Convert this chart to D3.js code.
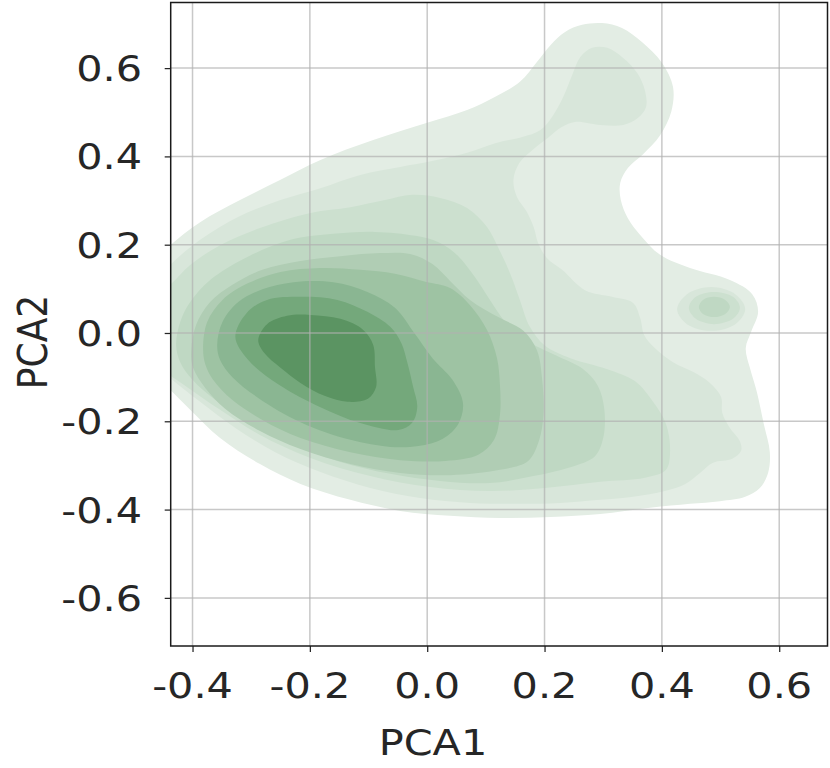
<!DOCTYPE html>
<html><head><meta charset="utf-8">
<script src="https://cdn.jsdelivr.net/npm/d3@7"></script>
<style>body{margin:0;background:#fff} svg{display:block}</style>
</head><body><svg id="c" width="830" height="768"></svg>
<script>
// Axis ticks
const xTickVals = [-0.4, -0.2, 0.0, 0.2, 0.4, 0.6];
const xTickLabels = ["-0.4", "-0.2", "0.0", "0.2", "0.4", "0.6"];
const yTickVals = [-0.6, -0.4, -0.2, 0.0, 0.2, 0.4, 0.6];
const yTickLabels = ["-0.6", "-0.4", "-0.2", "0.0", "0.2", "0.4", "0.6"];
const xLabel = "PCA1", yLabel = "PCA2";

// KDE contour levels (PCA1, PCA2), outermost first
const level1 = [[-0.472,0.154],[-0.438,0.199],[-0.387,0.251],[-0.319,0.301],[-0.250,0.347],[-0.182,0.392],[-0.092,0.437],[0.000,0.476],[0.068,0.505],[0.116,0.535],[0.158,0.569],[0.187,0.614],[0.210,0.652],[0.235,0.682],[0.264,0.698],[0.298,0.702],[0.332,0.691],[0.366,0.659],[0.400,0.612],[0.419,0.557],[0.416,0.501],[0.397,0.448],[0.368,0.405],[0.342,0.374],[0.329,0.340],[0.330,0.301],[0.342,0.260],[0.363,0.222],[0.397,0.177],[0.448,0.147],[0.516,0.120],[0.554,0.088],[0.564,0.048],[0.552,0.002],[0.543,-0.034],[0.550,-0.079],[0.562,-0.134],[0.574,-0.208],[0.584,-0.270],[0.581,-0.317],[0.567,-0.351],[0.542,-0.371],[0.499,-0.381],[0.448,-0.387],[0.380,-0.396],[0.295,-0.410],[0.210,-0.417],[0.124,-0.419],[0.039,-0.414],[-0.046,-0.403],[-0.131,-0.378],[-0.216,-0.342],[-0.285,-0.297],[-0.353,-0.238],[-0.404,-0.174],[-0.446,-0.118],[-0.489,-0.061],[-0.506,0.052],[-0.489,0.120]];
const level2 = [[-0.489,0.075],[-0.438,0.154],[-0.387,0.211],[-0.319,0.265],[-0.250,0.301],[-0.182,0.328],[-0.114,0.358],[-0.046,0.376],[0.010,0.390],[0.068,0.408],[0.116,0.430],[0.162,0.444],[0.193,0.460],[0.215,0.494],[0.232,0.535],[0.247,0.584],[0.261,0.625],[0.281,0.646],[0.307,0.646],[0.334,0.623],[0.358,0.589],[0.371,0.550],[0.373,0.512],[0.359,0.487],[0.334,0.471],[0.295,0.471],[0.252,0.478],[0.230,0.467],[0.206,0.442],[0.179,0.414],[0.157,0.385],[0.147,0.347],[0.153,0.308],[0.170,0.274],[0.182,0.238],[0.189,0.204],[0.204,0.170],[0.230,0.143],[0.269,0.097],[0.315,0.082],[0.351,0.068],[0.363,0.034],[0.370,-0.005],[0.388,-0.034],[0.419,-0.066],[0.453,-0.088],[0.482,-0.113],[0.501,-0.145],[0.503,-0.181],[0.516,-0.215],[0.533,-0.245],[0.535,-0.267],[0.520,-0.285],[0.487,-0.294],[0.465,-0.317],[0.440,-0.342],[0.405,-0.358],[0.351,-0.371],[0.295,-0.378],[0.227,-0.385],[0.158,-0.387],[0.073,-0.385],[-0.012,-0.374],[-0.097,-0.351],[-0.182,-0.315],[-0.259,-0.270],[-0.327,-0.215],[-0.387,-0.156],[-0.438,-0.102],[-0.489,-0.039],[-0.506,0.029]];
const level2b = [[0.426,0.054],[0.443,0.088],[0.484,0.104],[0.525,0.088],[0.542,0.054],[0.525,0.020],[0.484,0.005],[0.443,0.020]];
const level3 = [[-0.489,0.052],[-0.438,0.109],[-0.404,0.154],[-0.353,0.199],[-0.285,0.238],[-0.199,0.272],[-0.131,0.285],[-0.072,0.301],[-0.026,0.313],[0.022,0.306],[0.068,0.283],[0.102,0.240],[0.123,0.188],[0.141,0.136],[0.158,0.075],[0.175,0.014],[0.201,-0.029],[0.244,-0.057],[0.307,-0.082],[0.354,-0.109],[0.385,-0.156],[0.407,-0.206],[0.414,-0.265],[0.407,-0.310],[0.371,-0.328],[0.295,-0.337],[0.201,-0.351],[0.107,-0.358],[0.005,-0.349],[-0.097,-0.324],[-0.199,-0.283],[-0.285,-0.231],[-0.353,-0.174],[-0.412,-0.120],[-0.472,-0.061],[-0.497,-0.005]];
const level3b = [[0.446,0.057],[0.458,0.082],[0.489,0.093],[0.521,0.082],[0.533,0.057],[0.521,0.032],[0.489,0.020],[0.458,0.032]];
const level4 = [[-0.428,-0.027],[-0.421,0.025],[-0.404,0.070],[-0.370,0.120],[-0.310,0.170],[-0.233,0.211],[-0.165,0.224],[-0.089,0.229],[-0.020,0.220],[0.022,0.204],[0.053,0.174],[0.080,0.129],[0.107,0.075],[0.133,0.025],[0.167,-0.016],[0.218,-0.050],[0.266,-0.082],[0.291,-0.120],[0.302,-0.174],[0.300,-0.238],[0.286,-0.279],[0.244,-0.304],[0.181,-0.324],[0.107,-0.340],[0.022,-0.335],[-0.063,-0.319],[-0.148,-0.292],[-0.233,-0.251],[-0.302,-0.206],[-0.361,-0.152],[-0.400,-0.106],[-0.421,-0.066]];
const level4b = [[0.463,0.059],[0.470,0.075],[0.489,0.082],[0.508,0.075],[0.516,0.059],[0.508,0.043],[0.489,0.036],[0.470,0.043]];
const level5 = [[-0.402,-0.039],[-0.394,0.018],[-0.370,0.070],[-0.332,0.109],[-0.281,0.143],[-0.216,0.163],[-0.148,0.174],[-0.080,0.181],[-0.029,0.179],[0.009,0.156],[0.039,0.118],[0.073,0.075],[0.121,0.036],[0.164,0.005],[0.187,-0.039],[0.196,-0.106],[0.198,-0.186],[0.191,-0.242],[0.172,-0.290],[0.124,-0.310],[0.039,-0.322],[-0.046,-0.317],[-0.131,-0.297],[-0.216,-0.263],[-0.285,-0.222],[-0.344,-0.172],[-0.378,-0.125],[-0.399,-0.079]];
const level6 = [[-0.382,-0.034],[-0.375,0.025],[-0.349,0.075],[-0.305,0.113],[-0.250,0.138],[-0.182,0.147],[-0.114,0.143],[-0.055,0.134],[-0.003,0.116],[0.039,0.102],[0.073,0.063],[0.102,0.007],[0.119,-0.057],[0.124,-0.118],[0.124,-0.186],[0.114,-0.242],[0.087,-0.276],[0.031,-0.290],[-0.046,-0.288],[-0.131,-0.270],[-0.216,-0.238],[-0.281,-0.197],[-0.332,-0.152],[-0.365,-0.106],[-0.378,-0.072]];
const level7 = [[-0.358,-0.027],[-0.349,0.025],[-0.322,0.070],[-0.281,0.099],[-0.228,0.115],[-0.160,0.115],[-0.102,0.093],[-0.055,0.057],[-0.022,0.000],[0.009,-0.057],[0.043,-0.106],[0.061,-0.159],[0.053,-0.206],[0.026,-0.240],[-0.015,-0.256],[-0.063,-0.258],[-0.131,-0.242],[-0.216,-0.202],[-0.288,-0.147],[-0.332,-0.100],[-0.353,-0.061]];
const level8 = [[-0.327,-0.009],[-0.308,0.045],[-0.273,0.075],[-0.216,0.082],[-0.153,0.075],[-0.102,0.048],[-0.063,0.014],[-0.044,-0.023],[-0.034,-0.066],[-0.024,-0.122],[-0.017,-0.168],[-0.026,-0.204],[-0.049,-0.220],[-0.114,-0.204],[-0.182,-0.168],[-0.254,-0.116],[-0.305,-0.061]];
const level9 = [[-0.288,-0.016],[-0.273,0.020],[-0.239,0.039],[-0.199,0.041],[-0.148,0.032],[-0.109,0.007],[-0.092,-0.027],[-0.089,-0.077],[-0.087,-0.122],[-0.101,-0.149],[-0.136,-0.156],[-0.174,-0.143],[-0.216,-0.113],[-0.250,-0.079],[-0.278,-0.045]];

const levelColors = ["#e3ede4","#d8e6da","#cce0cf","#bfd8c3","#b0cdb4","#9ec3a3","#8ab692","#74a87b","#5b9462"];
const levelShapes = [[level1],[level2, level2b],[level3, level3b],[level4, level4b],[level5],[level6],[level7],[level8],[level9]];

const svg = d3.select("#c");
const L = 170.7, R = 827.5, T = 2.5, B = 646;
const x = d3.scaleLinear().domain([-0.4372, 0.6823]).range([L, R]);
const y = d3.scaleLinear().domain([-0.709, 0.7486]).range([B, T]);

svg.append("clipPath").attr("id","clip").append("rect")
  .attr("x", L).attr("y", T).attr("width", R - L).attr("height", B - T);

const line = d3.line().x(d => x(d[0])).y(d => y(d[1])).curve(d3.curveCatmullRomClosed.alpha(0.5));
const g = svg.append("g").attr("clip-path","url(#clip)");
levelShapes.forEach((shapes, i) => {
  shapes.forEach(s => {
    g.append("path").attr("d", line(s)).attr("fill", levelColors[i]).attr("stroke","none");
  });
});

// grid on top
const grid = svg.append("g").attr("clip-path","url(#clip)");
grid.selectAll(".gx").data(xTickVals).join("line")
  .attr("x1", d => x(d)).attr("x2", d => x(d)).attr("y1", T).attr("y2", B)
  .attr("stroke", "#b0b0b0").attr("stroke-opacity", 0.7).attr("stroke-width", 1.5);
grid.selectAll(".gy").data(yTickVals).join("line")
  .attr("y1", d => y(d)).attr("y2", d => y(d)).attr("x1", L).attr("x2", R)
  .attr("stroke", "#b0b0b0").attr("stroke-opacity", 0.7).attr("stroke-width", 1.5);

// axes (ticks via d3 axis, labels drawn separately with a horizontal stretch)
const fontFam = "'DejaVu Sans', sans-serif";
const SX = 1.15;
const xAxis = d3.axisBottom(x).tickValues(xTickVals).tickFormat("").tickSize(6);
const yAxis = d3.axisLeft(y).tickValues(yTickVals).tickFormat("").tickSize(6);
const gx = svg.append("g").attr("transform", `translate(0,${B})`).call(xAxis);
const gy = svg.append("g").attr("transform", `translate(${L},0)`).call(yAxis);
[gx, gy].forEach(a => {
  a.select(".domain").remove();
  a.selectAll(".tick line").attr("stroke", "#262626").attr("stroke-width", 1.25);
});
svg.append("g").selectAll("text").data(xTickVals).join("text")
  .attr("transform", d => `translate(${x(d)},698) scale(${SX},1)`)
  .attr("text-anchor","middle").attr("fill","#262626")
  .style("font-family", fontFam).style("font-size","36px")
  .text((d,i) => xTickLabels[i]);
svg.append("g").selectAll("text").data(yTickVals).join("text")
  .attr("transform", d => `translate(142,${y(d)}) scale(${SX},1)`)
  .attr("text-anchor","end").attr("dy","0.36em").attr("fill","#262626")
  .style("font-family", fontFam).style("font-size","36px")
  .text((d,i) => yTickLabels[i]);

// spines
svg.append("rect").attr("x", L).attr("y", T).attr("width", R - L).attr("height", B - T)
  .attr("fill", "none").attr("stroke", "#1a1a1a").attr("stroke-width", 1.5);

svg.append("text").attr("transform", `translate(433,755) scale(${SX},1)`).attr("text-anchor","middle")
  .attr("fill","#262626").style("font-family", fontFam).style("font-size","36px").text(xLabel);
svg.append("text").attr("transform",`translate(47,342) scale(${SX},1) rotate(-90)`).attr("text-anchor","middle")
  .attr("fill","#262626").style("font-family", fontFam).style("font-size","36px").text(yLabel);
</script></body></html>
